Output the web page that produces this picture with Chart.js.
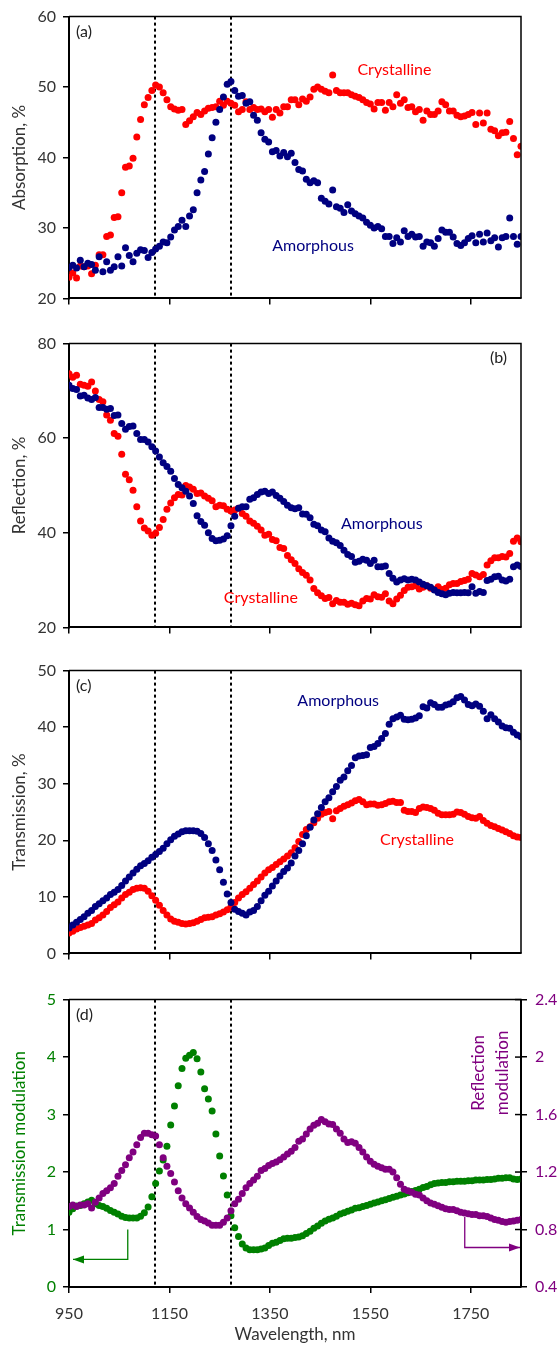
<!DOCTYPE html>
<html>
<head>
<meta charset="utf-8">
<script src="https://cdn.jsdelivr.net/npm/chart.js@4.4.1/dist/chart.umd.min.js"></script>
<style>
  body { margin: 0; background: #fff; }
  #wrap { position: relative; width: 557px; height: 1345px; overflow: hidden; }
  #wrap canvas { position: absolute; left: 0; }
</style>
</head>
<body>
<div id="wrap">
  <canvas id="chartA" width="557" height="315" style="top:0px"></canvas>
  <canvas id="chartB" width="557" height="317" style="top:327px"></canvas>
  <canvas id="chartC" width="557" height="316" style="top:654px"></canvas>
  <canvas id="chartD" width="557" height="363" style="top:982px"></canvas>
</div>
<script>
// wavelength sampling, nm (one point every 7.5 nm, 950..1850)
var wlStart = 950, wlStep = 7.5, wlCount = 121;
var wavelength = [];
for (var i = 0; i < wlCount; i++) wavelength.push(wlStart + i * wlStep);

var xTicks = [950, 1150, 1350, 1550, 1750];
var markLines = [1122, 1272];

// (a) absorption, %
var absCryst = [
  23.0,23.6,22.9,24.6,24.5,24.6,23.5,24.7,26.2,26.2,
  28.8,29.0,31.5,31.6,35.0,38.6,38.8,39.9,42.9,45.4,
  47.5,48.5,49.5,50.3,50.0,49.2,48.2,47.2,46.9,46.7,
  46.8,44.7,45.2,45.8,46.4,46.1,46.6,47.0,47.1,47.2,
  48.0,47.4,48.0,47.7,47.4,46.5,46.8,47.9,46.8,47.1,
  46.8,46.9,46.5,46.8,45.7,46.8,46.3,47.2,47.2,48.2,
  48.2,47.5,48.3,48.0,48.6,49.7,50.0,49.7,49.4,49.2,
  51.7,49.5,49.2,49.2,49.2,48.9,48.7,48.5,48.2,47.8,
  47.6,46.9,47.8,47.8,46.7,47.8,47.2,48.9,47.7,48.2,
  47.1,47.2,46.5,46.8,45.3,46.6,46.1,46.1,46.6,47.9,
  47.5,46.6,46.6,46.0,45.8,45.9,46.1,46.4,44.7,46.3,
  44.9,46.3,44.0,43.8,43.1,43.5,43.6,45.1,42.7,40.4,
  41.6
];
var absAmorph = [
  24.4,24.7,24.3,25.4,24.5,25.0,24.8,24.0,25.9,23.8,
  25.2,24.0,24.5,25.9,24.6,27.2,26.1,25.2,26.4,26.9,
  26.8,25.8,26.5,27.0,27.4,28.0,27.9,28.7,29.7,30.2,
  31.1,30.2,31.7,32.6,35.0,36.8,38.0,40.5,42.8,45.0,
  46.8,48.6,50.4,50.8,49.5,48.7,48.8,47.7,47.9,46.0,
  45.3,43.5,42.6,42.2,40.8,41.0,40.2,40.7,40.1,40.6,
  39.3,38.3,38.1,36.9,36.4,36.7,36.4,34.2,33.8,33.4,
  35.4,33.0,32.8,32.2,33.3,32.4,32.0,31.7,31.4,30.8,
  30.4,30.0,30.2,29.9,28.8,28.8,27.8,28.6,28.0,29.6,
  28.8,29.1,28.7,28.8,27.4,28.0,27.9,27.4,28.5,29.7,
  29.4,29.4,28.7,27.8,27.5,27.9,28.5,28.9,27.9,29.1,
  28.0,29.3,28.2,28.6,27.3,28.6,28.8,31.4,28.8,27.7,
  28.8
];

// (b) reflection, %
var refCryst = [
  73.6,72.9,73.3,71.4,71.2,71.0,71.9,70.0,68.2,67.7,
  64.9,63.8,61.0,60.4,56.6,52.4,51.2,49.0,45.5,42.5,
  41.0,40.4,39.5,39.9,41.1,42.8,45.0,46.3,47.4,48.1,
  48.0,50.0,49.7,49.2,48.3,48.4,47.8,47.3,46.8,45.5,
  45.8,45.7,45.0,44.6,44.8,45.2,44.1,43.5,42.5,42.0,
  41.4,40.6,39.5,39.7,38.6,38.3,36.9,36.7,35.2,34.3,
  33.5,32.4,31.6,31.0,30.0,28.2,27.3,26.7,26.1,26.3,
  25.0,25.7,25.3,25.3,24.9,25.1,24.8,24.6,25.6,26.1,
  26.0,26.9,26.5,26.4,27.1,25.6,25.0,26.0,26.8,27.8,
  28.5,28.6,28.8,28.1,28.5,28.8,28.3,28.0,28.6,28.0,
  28.3,29.0,29.3,29.3,29.7,29.9,30.2,31.4,31.1,30.7,
  31.2,33.2,34.1,34.7,34.7,35.0,34.9,35.6,38.2,38.9,
  38.1
];
var refAmorph = [
  71.2,70.5,70.3,68.9,69.1,68.5,68.2,68.6,66.5,66.5,
  66.1,66.3,64.8,64.9,63.1,61.9,62.5,62.6,61.0,59.7,
  59.7,59.2,58.2,57.3,56.0,54.8,54.0,53.0,51.5,50.2,
  49.5,48.8,47.8,46.2,43.6,42.4,41.6,40.0,38.8,38.3,
  38.4,38.7,39.4,41.5,43.5,45.2,45.5,45.5,47.1,47.4,
  48.1,48.6,48.8,48.3,48.6,47.9,47.3,46.6,45.8,45.3,
  45.1,45.3,44.0,43.9,43.2,41.8,41.5,40.6,40.2,38.9,
  38.2,37.9,37.3,36.3,35.4,35.0,33.8,34.0,34.4,34.2,
  33.5,34.2,32.8,32.8,33.0,31.4,30.4,29.6,30.0,30.3,
  30.0,30.2,30.0,29.6,29.1,28.8,28.5,27.9,27.4,27.1,
  26.9,27.2,27.4,27.3,27.3,27.4,27.3,28.6,27.2,27.6,
  27.4,29.9,30.2,30.7,30.8,30.0,29.8,30.2,32.8,33.2,
  32.9
];

// (c) transmission, %
var trCryst = [
  3.6,3.9,4.3,4.6,4.8,5.0,5.3,5.9,6.3,6.8,
  7.4,8.1,8.6,9.1,9.8,10.4,10.8,11.3,11.5,11.6,
  11.5,11.0,10.2,9.4,8.5,7.6,6.8,6.1,5.7,5.5,
  5.3,5.2,5.3,5.4,5.7,6.0,6.3,6.4,6.5,6.8,
  7.0,7.3,7.7,8.2,9.0,9.8,10.4,10.9,11.5,12.2,
  12.8,13.5,14.2,14.8,15.2,15.7,16.2,16.7,17.2,17.8,
  18.7,19.8,21.0,21.9,22.4,23.1,23.9,24.6,24.9,25.1,
  23.8,25.2,25.6,26.0,26.3,26.6,27.0,27.2,26.8,26.3,
  26.4,26.4,26.2,26.3,26.5,26.8,26.9,26.7,26.7,25.3,
  25.1,25.1,24.9,25.6,25.9,25.8,25.6,25.3,24.8,24.5,
  24.5,24.5,24.6,25.0,24.9,24.6,24.2,24.0,23.9,24.2,
  23.5,23.0,22.6,22.4,22.1,21.8,21.5,21.2,20.8,20.6,
  20.5
];
var trAmorph = [
  4.5,5.0,5.5,6.0,6.5,7.1,7.6,8.3,8.8,9.3,
  9.8,10.4,10.8,11.3,12.0,12.8,13.5,14.2,14.9,15.5,
  15.9,16.4,17.0,17.5,18.0,18.6,19.4,20.1,20.7,21.1,
  21.5,21.7,21.7,21.7,21.6,21.2,20.5,19.4,18.2,16.5,
  14.8,12.6,10.5,9.0,7.8,7.4,7.1,6.8,7.3,7.6,
  8.3,9.3,10.3,11.0,11.9,12.8,13.7,14.5,15.1,16.0,
  17.2,18.2,19.4,20.8,22.3,23.6,24.7,25.8,26.8,27.5,
  28.6,29.5,30.6,31.2,32.3,33.2,34.6,34.9,35.0,35.1,
  36.4,36.6,37.1,38.0,38.9,40.5,41.5,41.8,42.1,41.4,
  41.3,41.4,41.6,42.0,43.6,43.4,44.3,44.0,43.5,43.5,
  43.9,44.1,44.5,45.2,45.4,44.8,44.0,43.8,44.1,43.7,
  42.8,41.5,42.2,41.5,40.9,40.2,39.9,39.8,39.1,38.6,
  38.3
];

// (d) modulation (left axis: transmission, right axis: reflection)
var trMod = [
  1.30,1.36,1.41,1.42,1.45,1.48,1.51,1.45,1.42,1.40,
  1.37,1.33,1.30,1.27,1.23,1.21,1.20,1.20,1.20,1.23,
  1.29,1.39,1.57,1.80,2.02,2.21,2.45,2.82,3.15,3.50,
  3.80,3.98,4.03,4.08,3.97,3.74,3.45,3.27,3.06,2.66,
  2.28,1.93,1.60,1.24,1.03,0.88,0.75,0.68,0.65,0.65,
  0.65,0.66,0.68,0.72,0.76,0.78,0.81,0.84,0.85,0.85,
  0.86,0.87,0.89,0.93,0.97,1.02,1.06,1.11,1.15,1.18,
  1.20,1.23,1.27,1.29,1.32,1.34,1.37,1.38,1.40,1.42,
  1.44,1.46,1.48,1.50,1.52,1.54,1.56,1.58,1.60,1.62,
  1.64,1.66,1.68,1.70,1.73,1.75,1.78,1.80,1.81,1.82,
  1.82,1.83,1.83,1.84,1.84,1.84,1.85,1.85,1.86,1.86,
  1.86,1.87,1.87,1.88,1.89,1.89,1.90,1.90,1.88,1.87,
  1.88
];
var refMod = [
  0.96,0.97,0.96,0.97,0.97,0.98,0.95,0.99,1.02,1.05,
  1.07,1.09,1.12,1.17,1.21,1.25,1.30,1.34,1.39,1.44,
  1.47,1.47,1.46,1.45,1.39,1.30,1.24,1.19,1.13,1.07,
  1.02,0.98,0.95,0.92,0.89,0.87,0.86,0.845,0.83,0.83,
  0.83,0.85,0.88,0.93,0.98,1.01,1.05,1.09,1.12,1.145,
  1.17,1.21,1.225,1.245,1.26,1.27,1.285,1.305,1.325,1.345,
  1.37,1.415,1.43,1.465,1.50,1.525,1.54,1.565,1.55,1.535,
  1.53,1.50,1.47,1.43,1.405,1.41,1.40,1.37,1.34,1.305,
  1.275,1.255,1.24,1.23,1.22,1.22,1.20,1.16,1.115,1.08,
  1.07,1.06,1.045,1.04,1.02,1.00,0.985,0.975,0.965,0.955,
  0.945,0.94,0.94,0.93,0.92,0.915,0.91,0.905,0.905,0.895,
  0.895,0.89,0.88,0.87,0.865,0.855,0.85,0.855,0.86,0.865,
  0.87
];
var trModTicks = [0, 1, 2, 3, 4, 5];
var refModTicks = [0.4, 0.8, 1.2, 1.6, 2.0, 2.4];

// arrows in (d): wavelength / value pairs, last point gets the head
var arrowTrX = [1067, 1067, 958];
var arrowTrY = [1.0, 0.48, 0.48];
var arrowRefX = [1738, 1738, 1848];
var arrowRefY = [0.887, 0.675, 0.675];

var RED = '#ff0000', NAVY = '#000080', GREEN = '#008000', PURPLE = '#800080', GREY = '#333333';
var FONT = 'Lato, "Open Sans", sans-serif';
var TICK_SIZE = 16, TITLE_SIZE = 17, NOTE_SIZE = 16;

function toPoints(values) {
  return values.map(function (v, i) { return { x: wavelength[i], y: v }; });
}

var framePlugin = {
  id: 'frame',
  beforeDatasetsDraw: function (chart) {
    var ctx = chart.ctx, a = chart.chartArea, xs = chart.scales.x;
    ctx.save();
    ctx.strokeStyle = '#000';
    ctx.lineWidth = 2;
    ctx.setLineDash([3, 3]);
    markLines.forEach(function (w) {
      var px = Math.round(xs.getPixelForValue(w));
      ctx.beginPath();
      ctx.moveTo(px, a.top);
      ctx.lineTo(px, a.bottom);
      ctx.stroke();
    });
    ctx.restore();
  },
  afterDraw: function (chart, args, o) {
    var ctx = chart.ctx, a = chart.chartArea, xs = chart.scales.x;
    ctx.save();
    // top and right edges of the box
    ctx.strokeStyle = '#000';
    ctx.lineWidth = 1.5;
    ctx.beginPath();
    ctx.moveTo(a.left, a.top);
    ctx.lineTo(a.right, a.top);
    ctx.lineTo(a.right, a.bottom);
    ctx.stroke();

    if (chart.scales.y2) {
      var s2 = chart.scales.y2;
      s2.ticks.forEach(function (t) {
        var py = s2.getPixelForValue(t.value);
        ctx.beginPath();
        ctx.moveTo(a.right - 6, py);
        ctx.lineTo(a.right, py);
        ctx.stroke();
      });
    }

    // panel letter
    ctx.font = NOTE_SIZE + 'px ' + FONT;
    ctx.fillStyle = '#222';
    ctx.textBaseline = 'middle';
    if (o.letterRight) {
      ctx.textAlign = 'right';
      ctx.fillText(o.letter, a.right - 14, a.top + 14);
    } else {
      ctx.textAlign = 'left';
      ctx.fillText(o.letter, a.left + 7, a.top + 15);
    }

    // series labels
    (o.notes || []).forEach(function (n) {
      var ys = chart.scales[n.axis || 'y'];
      var px = xs.getPixelForValue(n.x), py = ys.getPixelForValue(n.y);
      ctx.fillStyle = n.color;
      ctx.textAlign = 'center';
      ctx.textBaseline = 'middle';
      ctx.font = (n.size || NOTE_SIZE) + 'px ' + FONT;
      if (n.rotate) {
        ctx.save();
        ctx.translate(px, py);
        ctx.rotate(-Math.PI / 2);
        ctx.fillText(n.text, 0, 0);
        ctx.restore();
      } else {
        ctx.fillText(n.text, px, py);
      }
    });

    // arrows
    (o.arrows || []).forEach(function (ar) {
      var ys = chart.scales[ar.axis];
      var pts = ar.xs.map(function (x, k) { return [xs.getPixelForValue(x), ys.getPixelForValue(ar.ys[k])]; });
      ctx.strokeStyle = ar.color;
      ctx.fillStyle = ar.color;
      ctx.lineWidth = 1.3;
      ctx.beginPath();
      pts.forEach(function (p, k) { if (k === 0) ctx.moveTo(p[0], p[1]); else ctx.lineTo(p[0], p[1]); });
      ctx.stroke();
      var end = pts[pts.length - 1], prev = pts[pts.length - 2];
      var ang = Math.atan2(end[1] - prev[1], end[0] - prev[0]);
      ctx.save();
      ctx.translate(end[0], end[1]);
      ctx.rotate(ang);
      ctx.beginPath();
      ctx.moveTo(0, 0);
      ctx.lineTo(-11, -4);
      ctx.lineTo(-11, 4);
      ctx.closePath();
      ctx.fill();
      ctx.restore();
    });
    ctx.restore();
  }
};

function axisCommon() {
  return {
    grid: { drawOnChartArea: false, drawTicks: true, tickLength: 6, color: '#000', lineWidth: 1.5 },
    border: { display: true, color: '#000', width: 2 }
  };
}

function makePanel(id, p) {
  var datasets = p.series.map(function (s) {
    return {
      data: toPoints(s.values),
      backgroundColor: s.color,
      borderColor: s.color,
      pointRadius: 3.5,
      pointBorderWidth: 0,
      yAxisID: s.axis || 'y'
    };
  });

  var xAxis = Object.assign(axisCommon(), {
    type: 'linear', min: 950, max: 1850,
    afterBuildTicks: function (s) { s.ticks = xTicks.map(function (v) { return { value: v }; }); },
    afterFit: function (s) { s.height = p.bottom ? 58 : 10; },
    ticks: {
      display: !!p.bottom, color: GREY, font: { family: FONT, size: TICK_SIZE }, padding: 11, maxRotation: 0,
      callback: function (v) { return String(v); }
    },
    title: { display: !!p.bottom, text: 'Wavelength, nm', color: GREY, font: { family: FONT, size: TITLE_SIZE }, padding: { top: 0, bottom: 0 } }
  });

  var yAxis = Object.assign(axisCommon(), {
    type: 'linear', position: 'left', min: p.yTicks[0], max: p.yTicks[p.yTicks.length - 1],
    afterBuildTicks: function (s) { s.ticks = p.yTicks.map(function (v) { return { value: v }; }); },
    afterFit: function (s) { s.width = 69; },
    ticks: { color: p.yColor || GREY, font: { family: FONT, size: TICK_SIZE }, padding: 7 },
    title: { display: true, text: p.yTitle, color: p.yColor || GREY, font: { family: FONT, size: TITLE_SIZE }, padding: { top: 9, bottom: 0 } }
  });

  var scales = { x: xAxis, y: yAxis };
  if (p.y2Ticks) {
    scales.y2 = Object.assign(axisCommon(), {
      type: 'linear', position: 'right', min: p.y2Ticks[0], max: p.y2Ticks[p.y2Ticks.length - 1],
      afterBuildTicks: function (s) { s.ticks = p.y2Ticks.map(function (v) { return { value: v }; }); },
      afterFit: function (s) { s.width = 36; },
      ticks: {
        color: PURPLE, font: { family: FONT, size: TICK_SIZE }, padding: 8,
        callback: function (v) { return String(+v.toFixed(1)); }
      },
      title: { display: false }
    });
  }

  return new Chart(document.getElementById(id), {
    type: 'scatter',
    data: { datasets: datasets },
    options: {
      responsive: false,
      animation: false,
      events: [],
      layout: { padding: { top: 16, right: p.y2Ticks ? 0 : 36, bottom: p.bottom ? 0 : 3, left: 0 } },
      plugins: {
        legend: { display: false },
        tooltip: { enabled: false },
        frame: { letter: p.letter, letterRight: p.letterRight, notes: p.notes, arrows: p.arrows }
      },
      scales: scales
    },
    plugins: [framePlugin]
  });
}

makePanel('chartA', {
  letter: '(a)',
  yTitle: 'Absorption, %',
  yTicks: [20, 30, 40, 50, 60],
  series: [{ values: absAmorph, color: NAVY }, { values: absCryst, color: RED }],
  notes: [
    { text: 'Crystalline', x: 1598, y: 52.5, color: RED },
    { text: 'Amorphous', x: 1436, y: 27.4, color: NAVY }
  ]
});

makePanel('chartB', {
  letter: '(b)', letterRight: true,
  yTitle: 'Reflection, %',
  yTicks: [20, 40, 60, 80],
  series: [{ values: refAmorph, color: NAVY }, { values: refCryst, color: RED }],
  notes: [
    { text: 'Amorphous', x: 1573, y: 41.9, color: NAVY },
    { text: 'Crystalline', x: 1332, y: 26.3, color: RED }
  ]
});

makePanel('chartC', {
  letter: '(c)',
  yTitle: 'Transmission, %',
  yTicks: [0, 10, 20, 30, 40, 50],
  series: [{ values: trAmorph, color: NAVY }, { values: trCryst, color: RED }],
  notes: [
    { text: 'Amorphous', x: 1486, y: 44.7, color: NAVY },
    { text: 'Crystalline', x: 1643, y: 20.1, color: RED }
  ]
});

makePanel('chartD', {
  letter: '(d)',
  bottom: true,
  yTitle: 'Transmission modulation',
  yColor: GREEN,
  yTicks: trModTicks,
  y2Ticks: refModTicks,
  series: [{ values: refMod, color: PURPLE, axis: 'y2' }, { values: trMod, color: GREEN }],
  notes: [
    { text: 'Reflection', x: 1766, y: 1.89, color: PURPLE, axis: 'y2', rotate: true, size: 17 },
    { text: 'modulation', x: 1814, y: 1.89, color: PURPLE, axis: 'y2', rotate: true, size: 17 }
  ],
  arrows: [
    { xs: arrowTrX, ys: arrowTrY, axis: 'y', color: GREEN },
    { xs: arrowRefX, ys: arrowRefY, axis: 'y2', color: PURPLE }
  ]
});
</script>
</body>
</html>
